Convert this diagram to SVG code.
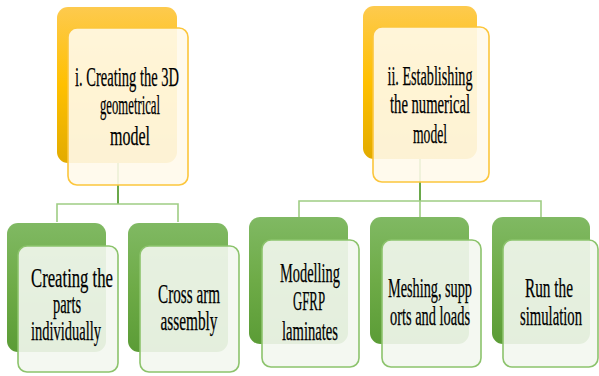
<svg xmlns="http://www.w3.org/2000/svg" width="599" height="376" viewBox="0 0 599 376">
  <defs>
    <linearGradient id="gold" x1="0" y1="0" x2="0" y2="1">
      <stop offset="0" stop-color="#fdca4e"/>
      <stop offset="0.5" stop-color="#ffc000"/>
      <stop offset="1" stop-color="#e2ab00"/>
    </linearGradient>
    <linearGradient id="green" x1="0" y1="0" x2="0" y2="1">
      <stop offset="0" stop-color="#80b963"/>
      <stop offset="0.5" stop-color="#6eab47"/>
      <stop offset="1" stop-color="#5b9c36"/>
    </linearGradient>
  </defs>
  <style>
    .back-gold { fill: url(#gold); }
    .back-green { fill: url(#green); }
    .card-gold { fill: #fffaeb; fill-opacity: 0.9; stroke: #fcc63c; stroke-width: 1.6; }
    .card-green { fill: #f3f7ef; fill-opacity: 0.9; stroke: #8cc36c; stroke-width: 1.6; }
    .link { fill: none; stroke: #9fcd84; stroke-width: 1.6; }
    .trunk { fill: none; stroke: #6aa84a; stroke-width: 2; }
    .label { font-family: "Liberation Serif", "Times New Roman", serif; font-size: 27px; fill: #000; stroke: #000; stroke-width: 0.25; text-anchor: middle; }
  </style>

  <!-- connectors -->
  <g id="connectors">
    <path class="trunk" d="M118 163 V204"/>
    <path class="link" d="M57 222 V204 H178 V222"/>
    <path class="trunk" d="M420 159 V201"/>
    <path class="link" d="M299 217 V201 H541 V217 M420 201 V217"/>
  </g>

  <!-- top level: 3D geometrical model -->
  <g id="node-geometry">
    <rect class="back-gold" x="57" y="7" width="120" height="156" rx="11"/>
    <rect class="card-gold" x="68" y="28" width="120" height="157" rx="9"/>
    <text class="label" x="127" y="86" textLength="104" lengthAdjust="spacingAndGlyphs">i. Creating the 3D</text>
    <text class="label" x="130" y="114" textLength="60" lengthAdjust="spacingAndGlyphs">geometrical</text>
    <text class="label" x="130" y="145" textLength="40" lengthAdjust="spacingAndGlyphs">model</text>
  </g>

  <!-- top level: numerical model -->
  <g id="node-numerical">
    <rect class="back-gold" x="363" y="6" width="114" height="153" rx="11"/>
    <rect class="card-gold" x="373" y="27" width="116" height="155" rx="9"/>
    <text class="label" x="430" y="85" textLength="85" lengthAdjust="spacingAndGlyphs">ii. Establishing</text>
    <text class="label" x="430" y="113" textLength="80" lengthAdjust="spacingAndGlyphs">the numerical</text>
    <text class="label" x="430" y="143" textLength="34" lengthAdjust="spacingAndGlyphs">model</text>
  </g>

  <!-- steps under the geometrical model -->
  <g id="node-parts">
    <rect class="back-green" x="7" y="223" width="99" height="129" rx="11"/>
    <rect class="card-green" x="18" y="246" width="100" height="126" rx="9"/>
    <text class="label" x="72" y="287" textLength="82" lengthAdjust="spacingAndGlyphs">Creating the</text>
    <text class="label" x="67" y="313" textLength="28" lengthAdjust="spacingAndGlyphs">parts</text>
    <text class="label" x="66" y="340" textLength="70" lengthAdjust="spacingAndGlyphs">individually</text>
  </g>

  <g id="node-assembly">
    <rect class="back-green" x="128" y="223" width="100" height="129" rx="11"/>
    <rect class="card-green" x="140" y="246" width="99" height="126" rx="9"/>
    <text class="label" x="189" y="303" textLength="62" lengthAdjust="spacingAndGlyphs">Cross arm</text>
    <text class="label" x="189" y="330" textLength="57" lengthAdjust="spacingAndGlyphs">assembly</text>
  </g>

  <!-- steps under the numerical model -->
  <g id="node-gfrp">
    <rect class="back-green" x="249" y="217" width="99" height="127" rx="11"/>
    <rect class="card-green" x="262" y="240" width="97" height="127" rx="9"/>
    <text class="label" x="310" y="282" textLength="60" lengthAdjust="spacingAndGlyphs">Modelling</text>
    <text class="label" x="309" y="310" textLength="32" lengthAdjust="spacingAndGlyphs">GFRP</text>
    <text class="label" x="310" y="340" textLength="56" lengthAdjust="spacingAndGlyphs">laminates</text>
  </g>

  <g id="node-meshing">
    <rect class="back-green" x="370" y="217" width="99" height="127" rx="11"/>
    <rect class="card-green" x="382" y="240" width="99" height="127" rx="9"/>
    <text class="label" x="430" y="297" textLength="84" lengthAdjust="spacingAndGlyphs">Meshing, supp</text>
    <text class="label" x="430" y="325" textLength="80" lengthAdjust="spacingAndGlyphs">orts and loads</text>
  </g>

  <g id="node-simulation">
    <rect class="back-green" x="492" y="217" width="98" height="127" rx="11"/>
    <rect class="card-green" x="503" y="240" width="95" height="127" rx="9"/>
    <text class="label" x="549" y="297" textLength="48" lengthAdjust="spacingAndGlyphs">Run the</text>
    <text class="label" x="551" y="325" textLength="62" lengthAdjust="spacingAndGlyphs">simulation</text>
  </g>
</svg>
